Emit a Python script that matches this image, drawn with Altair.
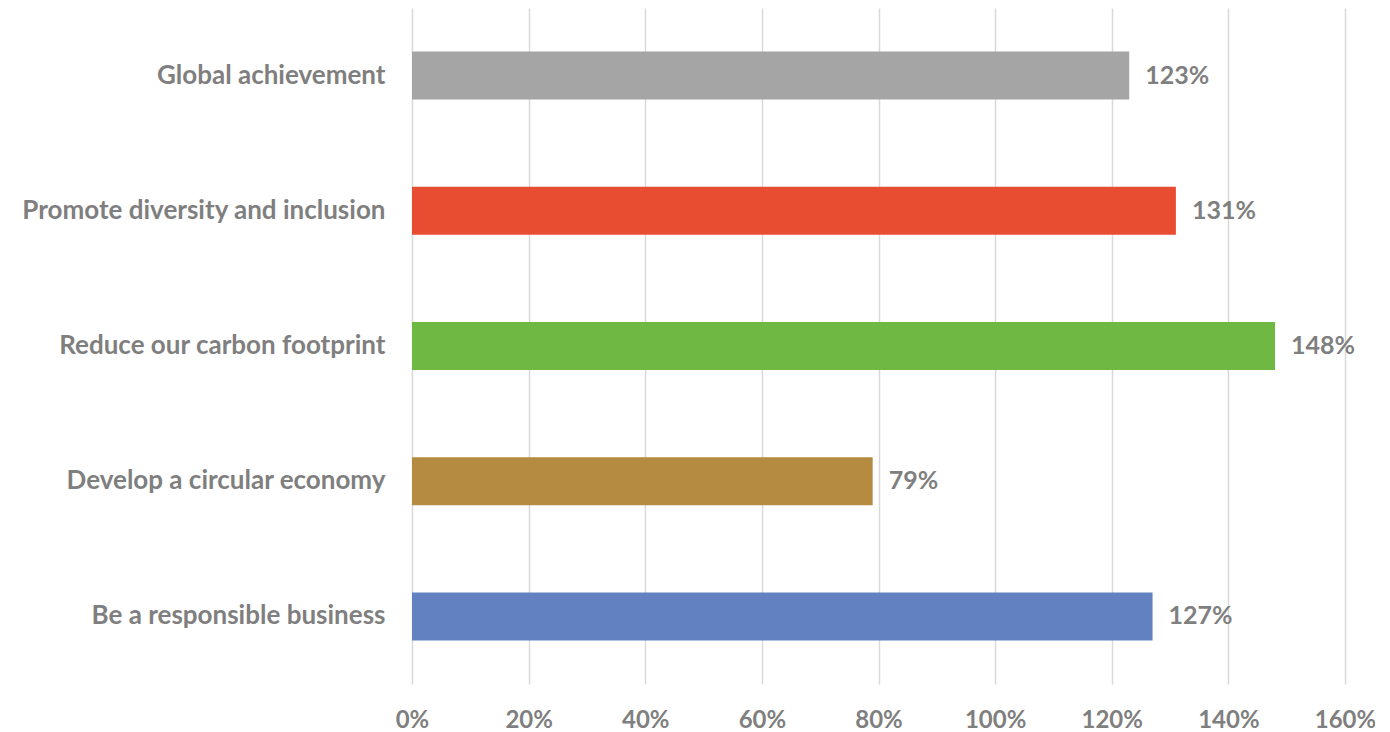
import altair as alt
import pandas as pd

categories = [
    "Global achievement",
    "Promote diversity and inclusion",
    "Reduce our carbon footprint",
    "Develop a circular economy",
    "Be a responsible business",
]
values = [1.23, 1.31, 1.48, 0.79, 1.27]
labels = ["123%", "131%", "148%", "79%", "127%"]
colors = ["#A5A5A5", "#E84C31", "#70B844", "#B58B41", "#6281C1"]
x_ticks = [0, 0.2, 0.4, 0.6, 0.8, 1.0, 1.2, 1.4, 1.6]

df = pd.DataFrame({"category": categories, "value": values, "label": labels})

FONT = "Lato"
TXT = "#7F7F7F"

y_enc = alt.Y(
    "category:N",
    sort=categories,
    title=None,
    scale=alt.Scale(paddingInner=0, paddingOuter=0),
    axis=alt.Axis(
        labelFont=FONT,
        labelFontSize=26,
        labelFontWeight="bold",
        labelColor=TXT,
        labelPadding=27,
        ticks=False,
        domain=False,
        grid=False,
        labelLimit=500,
    ),
)

x_enc = alt.X(
    "value:Q",
    title=None,
    scale=alt.Scale(domain=[0, 1.6], nice=False),
    axis=alt.Axis(
        values=x_ticks,
        format=".0%",
        labelFont=FONT,
        labelFontSize=24,
        labelFontWeight="bold",
        labelColor=TXT,
        labelPadding=24,
        labelAlign="center",
        labelFlush=False,
        labelOverlap=False,
        ticks=False,
        domain=False,
        grid=True,
        gridColor="#D9D9D9",
        gridWidth=1.5,
    ),
)

bars = alt.Chart(df).mark_bar(size=48).encode(
    x=x_enc,
    y=y_enc,
    color=alt.Color(
        "category:N",
        scale=alt.Scale(domain=categories, range=colors),
        legend=None,
    ),
)

text = alt.Chart(df).mark_text(
    align="left",
    baseline="middle",
    dx=16,
    font=FONT,
    fontSize=25,
    fontWeight="bold",
    color=TXT,
).encode(
    x=alt.X("value:Q"),
    y=alt.Y("category:N", sort=categories),
    text="label:N",
)

chart = (
    alt.layer(bars, text)
    .properties(
        width=933,
        height=676,
        autosize=alt.AutoSizeParams(type="none"),
        padding={"left": 404, "top": 0, "right": 30, "bottom": 48},
    )
    .configure_view(stroke=None)
)

chart.save("out.html", embed_options={"renderer": "svg", "actions": False})
